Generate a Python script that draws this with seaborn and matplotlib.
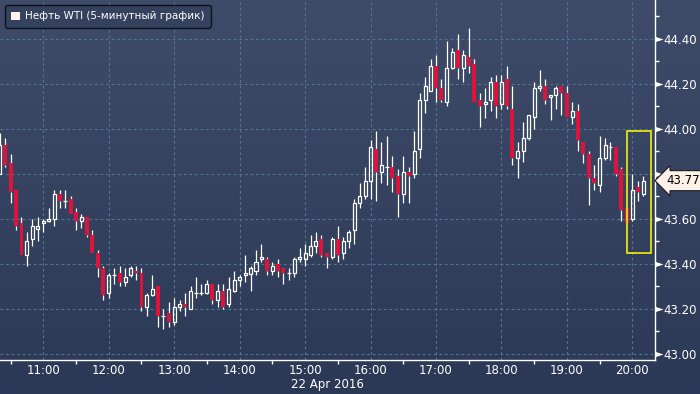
import numpy as np
import pandas as pd
import matplotlib
matplotlib.use('Agg')
import matplotlib.pyplot as plt
import matplotlib.transforms as mtransforms
from matplotlib.patches import Patch, Rectangle
from matplotlib.path import Path
from matplotlib.colors import LinearSegmentedColormap
from matplotlib.ticker import FixedLocator, MultipleLocator, FuncFormatter
import seaborn as sns

# 5-minute WTI bars, 22 Apr 2016, first bar 10:20
START = '2016-04-22 10:20'
OPEN = [43.80, 43.93, 43.85, 43.73, 43.58, 43.44, 43.51, 43.555, 43.58, 43.59,
        43.60, 43.71, 43.68, 43.69, 43.63, 43.59, 43.61, 43.53, 43.45, 43.38,
        43.27, 43.35, 43.36, 43.32, 43.35, 43.37, 43.36, 43.21, 43.26, 43.30,
        43.17, 43.18, 43.14, 43.21, 43.22, 43.20, 43.27, 43.27, 43.27, 43.31,
        43.24, 43.28, 43.22, 43.28, 43.33, 43.35, 43.356, 43.37, 43.42, 43.42,
        43.37, 43.40, 43.38, 43.36, 43.36, 43.42, 43.42, 43.44, 43.48, 43.51,
        43.45, 43.43, 43.51, 43.45, 43.50, 43.55, 43.67, 43.70, 43.77, 43.91,
        43.81, 43.83, 43.83, 43.79, 43.71, 43.81, 43.80, 43.91, 44.13, 44.17,
        44.28, 44.18, 44.12, 44.27, 44.35, 44.27, 44.32, 44.29, 44.13, 44.11,
        44.13, 44.21, 44.11, 44.22, 44.09, 43.87, 43.90, 43.96, 44.055, 44.18,
        44.19, 44.14, 44.15, 44.19, 44.16, 44.055, 44.08, 43.94, 43.89, 43.78,
        43.75, 43.87, 43.92, 43.92, 43.82, 43.65, 43.60, 43.74, 43.71]
HIGH = [43.98, 43.96, 43.89, 43.73, 43.61, 43.54, 43.60, 43.61, 43.60, 43.65,
        43.73, 43.73, 43.73, 43.70, 43.65, 43.62, 43.61, 43.55, 43.46, 43.39,
        43.36, 43.38, 43.39, 43.38, 43.39, 43.39, 43.38, 43.27, 43.35, 43.30,
        43.20, 43.23, 43.25, 43.24, 43.27, 43.30, 43.34, 43.31, 43.33, 43.31,
        43.31, 43.31, 43.34, 43.37, 43.35, 43.44, 43.39, 43.46, 43.49, 43.43,
        43.41, 43.42, 43.38, 43.38, 43.43, 43.47, 43.49, 43.53, 43.54, 43.53,
        43.45, 43.52, 43.57, 43.52, 43.55, 43.69, 43.76, 43.83, 43.95, 43.99,
        43.94, 43.97, 43.88, 43.82, 43.88, 43.83, 43.99, 44.16, 44.23, 44.31,
        44.33, 44.22, 44.39, 44.36, 44.42, 44.35, 44.45, 44.31, 44.16, 44.18,
        44.23, 44.24, 44.24, 44.28, 44.19, 43.94, 44.03, 44.06, 44.21, 44.26,
        44.22, 44.15, 44.19, 44.19, 44.19, 44.12, 44.11, 43.94, 43.90, 43.84,
        43.97, 43.96, 43.94, 43.92, 43.83, 43.65, 43.80, 43.77, 43.79]
LOW = [43.80, 43.83, 43.67, 43.55, 43.44, 43.39, 43.48, 43.50, 43.54, 43.585,
       43.57, 43.65, 43.65, 43.62, 43.55, 43.56, 43.52, 43.45, 43.34, 43.24,
       43.25, 43.31, 43.30, 43.30, 43.344, 43.33, 43.19, 43.17, 43.258, 43.12,
       43.11, 43.12, 43.13, 43.19, 43.17, 43.20, 43.25, 43.26, 43.267, 43.22,
       43.21, 43.20, 43.21, 43.277, 43.30, 43.32, 43.28, 43.35, 43.41, 43.35,
       43.35, 43.34, 43.31, 43.33, 43.34, 43.41, 43.39, 43.43, 43.45, 43.43,
       43.38, 43.42, 43.41, 43.42, 43.47, 43.49, 43.65, 43.69, 43.69, 43.68,
       43.76, 43.75, 43.72, 43.61, 43.67, 43.67, 43.78, 43.87, 44.07, 44.17,
       44.12, 44.12, 44.10, 44.265, 44.22, 44.21, 44.25, 44.12, 44.01, 44.05,
       44.08, 44.05, 44.09, 44.09, 43.84, 43.78, 43.855, 43.95, 44.00, 44.17,
       44.11, 44.04, 44.09, 44.06, 44.055, 44.02, 43.90, 43.85, 43.66, 43.73,
       43.72, 43.86, 43.86, 43.79, 43.59, 43.58, 43.59, 43.68, 43.70]
CLOSE = [43.93, 43.84, 43.72, 43.57, 43.44, 43.50, 43.57, 43.57, 43.59, 43.60,
         43.71, 43.68, 43.68, 43.62, 43.59, 43.61, 43.53, 43.45, 43.38, 43.26,
         43.35, 43.35, 43.32, 43.34, 43.38, 43.36, 43.21, 43.26, 43.29, 43.17,
         43.17, 43.14, 43.21, 43.22, 43.21, 43.28, 43.27, 43.27, 43.31, 43.24,
         43.28, 43.21, 43.29, 43.33, 43.34, 43.36, 43.38, 43.41, 43.43, 43.37,
         43.39, 43.37, 43.36, 43.36, 43.42, 43.43, 43.45, 43.48, 43.50, 43.44,
         43.43, 43.51, 43.44, 43.50, 43.54, 43.67, 43.70, 43.77, 43.92, 43.81,
         43.84, 43.83, 43.78, 43.71, 43.81, 43.79, 43.90, 44.13, 44.19, 44.28,
         44.18, 44.13, 44.27, 44.34, 44.27, 44.33, 44.28, 44.12, 44.10, 44.12,
         44.21, 44.10, 44.21, 44.10, 43.87, 43.90, 43.96, 44.06, 44.18, 44.19,
         44.13, 44.15, 44.18, 44.16, 44.055, 44.08, 43.95, 43.89, 43.78, 43.76,
         43.87, 43.93, 43.92, 43.80, 43.64, 43.58, 43.73, 43.72, 43.77]

HOUR_TICKS = [11, 12, 13, 14, 15, 16, 17, 18, 19, 20]
HOUR_LABELS = ['11:00', '12:00', '13:00', '14:00', '15:00',
               '16:00', '17:00', '18:00', '19:00', '20:00']
PRICE_TICKS = [43.0, 43.2, 43.4, 43.6, 43.8, 44.0, 44.2, 44.4]
LEGEND_LABEL = 'Нефть WTI (5-минутный график)'
DATE_LABEL = '22 Apr 2016'

sns.set_theme(style='dark')
plt.rcParams['font.family'] = ['DejaVu Sans']

df = pd.DataFrame({'open': OPEN, 'high': HIGH, 'low': LOW, 'close': CLOSE})
df['time'] = pd.date_range(START, periods=len(df), freq='5min')
df['x'] = df['time'].dt.hour + df['time'].dt.minute / 60
df['top'] = df[['open', 'close']].max(axis=1)
df['bot'] = df[['open', 'close']].min(axis=1)
up = df[df['close'] > df['open']]
down = df[df['close'] < df['open']]
flat = df[df['close'] == df['open']]

fig = plt.figure(figsize=(7, 3.94), dpi=100)

# background gradient
bg = fig.add_axes([0, 0, 1, 1], zorder=-10)
bg.imshow(np.linspace(0, 1, 256)[:, None], aspect='auto', extent=[0, 1, 0, 1],
          cmap=LinearSegmentedColormap.from_list('bg', ['#3e4c6a', '#2b3957']))
bg.axis('off')

ax = fig.add_axes([0, 34 / 394, 655 / 700, 360 / 394])
ax.set_facecolor('none')

bar = 5 / 60
ax.vlines(df['x'], df['top'], df['high'], color='white', lw=0.9, zorder=2)
ax.vlines(df['x'], df['low'], df['bot'], color='white', lw=0.9, zorder=2)
ax.bar(down['x'], down['top'] - down['bot'], bottom=down['bot'], width=0.06,
       color='#dc143c', lw=0, zorder=3)
ax.bar(up['x'], up['top'] - up['bot'], bottom=up['bot'], width=0.046,
       facecolor='none', edgecolor='white', lw=0.9, zorder=3)
ax.hlines(flat['close'], flat['x'] - 0.03, flat['x'] + 0.03, color='white', lw=0.9, zorder=3)

# highlight box around the last bars
x0 = df['x'].iloc[-4]
x1 = df['x'].iloc[-1] + 1.4 * bar
ax.add_patch(Rectangle((x0, 43.45), x1 - x0, 0.54, fill=False, ec='#f2f200', lw=1.2, zorder=5))

ax.set_xlim(10 + 20.3 / 60, 20 + 20.8 / 60)
ax.set_ylim(42.973, 44.573)

ax.grid(True, which='major', color='#55758f', ls=(0, (2.5, 2.5)), lw=0.8)
ax.set_axisbelow(True)

for s in ['left', 'top']:
    ax.spines[s].set_visible(False)
for s in ['right', 'bottom']:
    ax.spines[s].set_color('white')
    ax.spines[s].set_linewidth(1)

ax.set_xticks(HOUR_TICKS)
ax.set_xticklabels(HOUR_LABELS)
ax.xaxis.set_minor_locator(FixedLocator([h - 0.5 for h in HOUR_TICKS]))
ax.tick_params(axis='x', which='major', length=0, pad=3, labelsize=8.5, labelcolor='white')
ax.tick_params(axis='x', which='minor', length=3, width=1, color='white', direction='out', bottom=True)

ax.yaxis.tick_right()
ax.set_yticks(PRICE_TICKS)
ax.yaxis.set_major_formatter(FuncFormatter(lambda v, p: f'{v:.2f}'))
ax.yaxis.set_minor_locator(MultipleLocator(0.1))
ax.tick_params(axis='y', which='major', length=0, pad=6, labelsize=8.5, labelcolor='white')
ax.tick_params(axis='y', which='minor', length=3, width=1, color='white', direction='out', right=True)

# triangle tick markers on the price axis
tri = Path([(0, -1), (3, 0), (0, 1), (0, -1)])
ax.plot([1.0] * len(PRICE_TICKS), PRICE_TICKS, ls='none', marker=tri, ms=11.5,
        color='white', mew=0, transform=ax.get_yaxis_transform(), clip_on=False, zorder=6)

ax.set_xlabel(DATE_LABEL, color='white', fontsize=8.5, labelpad=0.5)
ax.set_ylabel('')

# last price label
last = df['close'].iloc[-1]
ax.text(1.0, last, f'{last:.2f}', color='black', fontsize=8.5, ha='left', va='center',
        transform=mtransforms.offset_copy(ax.get_yaxis_transform(), fig=fig, x=11, y=0, units='dots'),
        bbox=dict(boxstyle='larrow,pad=0.3', fc='#fdf1e8', ec='#1a1a1a', lw=0.8),
        clip_on=False, zorder=7)

handle = Patch(facecolor='#fff2ee', edgecolor='none', label=LEGEND_LABEL)
leg = ax.legend(handles=[handle], loc='upper left', bbox_to_anchor=(5 / 655, 1 - 5 / 360),
                borderaxespad=0, frameon=True, fancybox=True, facecolor='#34425e',
                edgecolor='#0d121c', framealpha=1, handlelength=0.8, handleheight=0.8,
                handletextpad=0.5, borderpad=0.6, fontsize=7.5, labelcolor='white')
leg.get_frame().set_linewidth(1)

fig.savefig('out.png', dpi=100)
